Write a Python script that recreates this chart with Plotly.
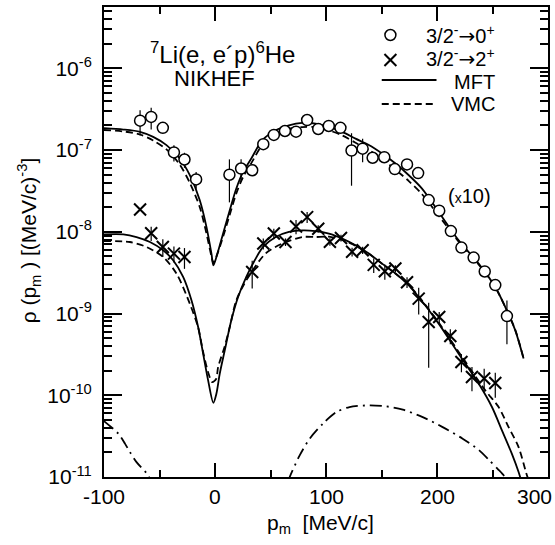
import numpy as np
import plotly.graph_objects as go

# ---------------------------------------------------------------------------
# 7Li(e,e'p)6He momentum distributions, NIKHEF data
# ---------------------------------------------------------------------------
SCALE_GS = 10  # the 3/2- -> 0+ set is drawn multiplied by 10

# 3/2- -> 0+ transition (ground state), missing momentum [MeV/c]
P_GS = [-67.5, -57.5, -47, -37, -27.5, -17, 13, 23.5, 33.5, 43.5, 53, 63, 73, 83,
        93, 102.5, 113, 123, 133, 142, 152.5, 162, 173, 183, 192.5, 202, 212.5,
        222, 233, 243, 252.5, 263]
RHO_GS = [2.29e-8, 2.54e-8, 1.87e-8, 9.35e-9, 7.66e-9, 4.37e-9, 4.99e-9, 5.94e-9,
          5.66e-9, 1.18e-8, 1.53e-8, 1.71e-8, 1.68e-8, 2.33e-8, 1.81e-8, 1.97e-8,
          1.87e-8, 9.86e-9, 1.04e-8, 8.05e-9, 8.17e-9, 5.85e-9, 6.67e-9, 5.22e-9,
          2.44e-9, 1.81e-9, 1.02e-9, 6.41e-10, 4.83e-10, 3.27e-10, 2.23e-10, 9.31e-11]
ERR_GS = [7.8e-9, 7.6e-9, 0, 2.1e-9, 1.6e-9, 1.0e-9, 2.7e-9, 1.8e-9,
          0.7e-9, 1.4e-9, 0, 0, 0, 0, 0, 0,
          1.9e-9, 6.2e-9, 3.3e-9, 0, 0, 0, 0.8e-9, 0.8e-9,
          0, 0, 0, 0, 0.5e-10, 0, 0, 5.1e-11]

# 3/2- -> 2+ transition (first excited state)
P_EX = [-67.5, -57.5, -47, -37, -27.5, 33.5, 43.5, 53, 63.5, 73, 83, 93, 103.5,
        113.5, 123.5, 133, 143, 153, 162.5, 173, 183.5, 192.5, 202, 212, 222,
        231.5, 242.5, 252.5]
RHO_EX = [1.87e-8, 9.59e-9, 6.52e-9, 5.41e-9, 4.92e-9, 3.22e-9, 7.18e-9, 9.51e-9,
          7.50e-9, 1.16e-8, 1.51e-8, 1.09e-8, 7.55e-9, 8.38e-9, 5.69e-9, 5.94e-9,
          3.94e-9, 3.29e-9, 3.55e-9, 2.41e-9, 1.52e-9, 7.87e-10, 9.06e-10,
          5.31e-10, 2.55e-10, 1.67e-10, 1.60e-10, 1.41e-10]
ERR_EX = [0, 1.9e-9, 1.6e-9, 1.2e-9, 1.4e-9, 1.2e-9, 1.1e-9, 1.4e-9,
          0.8e-9, 2.3e-9, 2.3e-9, 1.1e-9, 0.8e-9, 0.8e-9, 0.7e-9, 0.6e-9,
          0.8e-9, 0.7e-9, 0.35e-9, 0.36e-9, 5.5e-10, 5.7e-10, 1.4e-10,
          1.1e-10, 6.4e-11, 5.5e-11, 5.1e-11, 4.8e-11]

# Mean-field (MFT) calculation, ground state
P_MFT_GS = [-100, -82.6, -67.6, -55.7, -43.7, -31.7, -22.7, -13.7, -7.7, -3.2, -1.5,
            1.3, 7.3, 13.3, 19.2, 25.3, 32.7, 42.6, 54.7, 66.6, 78.6, 90.6, 102.6,
            114.6, 126.6, 138.6, 150.5, 162.6, 174.6, 186.5, 201.5, 219.5, 237.5,
            252.5, 261.5, 270.5, 278]
RHO_MFT_GS = [1.85e-8, 1.78e-8, 1.67e-8, 1.45e-8, 1.15e-8, 7.87e-9, 4.92e-9, 2.43e-9,
              1.15e-9, 5.41e-10, 3.89e-10, 4.92e-10, 9.51e-10, 1.83e-9, 3.38e-9,
              5.40e-9, 7.87e-9, 1.32e-8, 1.75e-8, 2.01e-8, 2.15e-8, 2.11e-8, 1.92e-8,
              1.67e-8, 1.38e-8, 1.15e-8, 9.06e-9, 6.84e-9, 4.92e-9, 3.38e-9, 1.75e-9,
              7.87e-10, 4.08e-10, 2.11e-10, 1.20e-10, 6.22e-11, 2.81e-11]

# Variational Monte Carlo (VMC) calculation, ground state
P_VMC_GS = P_MFT_GS
RHO_VMC_GS = [1.76e-8, 1.69e-8, 1.55e-8, 1.31e-8, 1.02e-8, 6.61e-9, 3.98e-9, 2.00e-9,
              9.55e-10, 5.01e-10, 4.17e-10, 5.01e-10, 8.71e-10, 1.62e-9, 2.95e-9,
              4.68e-9, 6.92e-9, 1.15e-8, 1.58e-8, 1.82e-8, 1.91e-8, 1.91e-8, 1.74e-8,
              1.51e-8, 1.23e-8, 1.00e-8, 7.76e-9, 5.75e-9, 4.17e-9, 2.88e-9, 1.58e-9,
              7.59e-10, 3.98e-10, 2.09e-10, 1.20e-10, 6.31e-11, 2.82e-11]

# MFT, excited state
P_MFT_EX = [-100, -82.6, -70.7, -58.6, -46.7, -37.7, -28.7, -21.2, -15.2, -10.7, -6.2,
            -1.5, 1.3, 4.3, 8.8, 14.7, 20.8, 28.2, 35.8, 43.3, 54.7, 66.6, 78.6,
            90.6, 102.6, 114.6, 126.6, 138.6, 150.5, 162.6, 174.6, 183.5, 201.5,
            219.5, 237.5, 249.5, 258.5, 267.4, 273.5, 276]
RHO_MFT_EX = [9.31e-9, 9.31e-9, 8.63e-9, 7.50e-9, 5.94e-9, 4.48e-9, 2.80e-9, 1.45e-9,
              6.84e-10, 3.23e-10, 1.52e-10, 8.1e-11, 1.05e-10, 1.84e-10, 3.55e-10,
              8.26e-10, 1.59e-9, 2.80e-9, 4.48e-9, 6.52e-9, 8.63e-9, 9.95e-9, 1.04e-8,
              1.02e-8, 9.51e-9, 8.26e-9, 6.84e-9, 5.41e-9, 4.08e-9, 3.08e-9, 2.21e-9,
              1.59e-9, 7.52e-10, 3.23e-10, 1.39e-10, 7.18e-11, 3.72e-11, 1.93e-11,
              1.15e-11, 8.9e-12]

# VMC, excited state
P_VMC_EX = [-100, -76.6, -61.7, -46.7, -34.7, -22.7, -15.2, -10.7, -6.2, -2.5, 1.0,
            2.8, 8.8, 13.3, 19.2, 28.2, 45.5, 60.5, 78.6, 90.6, 102.6, 114.6, 126.6,
            138.6, 150.5, 162.6, 174.6, 183.5, 201.5, 219.5, 243.5, 255.5, 264.5,
            273.5, 281, 283]
RHO_VMC_EX = [7.71e-9, 7.50e-9, 6.52e-9, 4.92e-9, 3.08e-9, 1.32e-9, 6.76e-10, 3.39e-10,
              1.91e-10, 1.45e-10, 1.58e-10, 2.21e-10, 3.98e-10, 6.84e-10, 1.45e-9,
              2.55e-9, 5.41e-9, 7.18e-9, 8.63e-9, 8.63e-9, 8.71e-9, 7.94e-9, 6.76e-9,
              5.37e-9, 4.07e-9, 3.09e-9, 2.24e-9, 1.62e-9, 7.76e-10, 3.39e-10,
              1.15e-10, 7.18e-11, 4.08e-11, 2.32e-11, 1.05e-11, 8.9e-12]

# Additional contribution (dash-dotted), two branches above the axis floor
P_DD = [-100, -87.1, -81.1, -76.6, -70.7, -60.2, -58, None,
        66, 67.3, 76.3, 85.3, 97.2, 109.2, 121.2, 139.2, 154.1, 169.2, 187.1,
        205.1, 223.1, 238.1, 247.1, 254.6, 260.6, 262]
RHO_DD = [4.83e-11, 3.39e-11, 2.56e-11, 2.02e-11, 1.52e-11, 1.05e-11, 8.9e-12, None,
          8.9e-12, 1.0e-11, 1.84e-11, 2.94e-11, 4.49e-11, 6.22e-11, 7.18e-11,
          7.52e-11, 7.31e-11, 6.67e-11, 5.41e-11, 4.08e-11, 2.94e-11, 2.12e-11,
          1.60e-11, 1.26e-11, 1.02e-11, 8.9e-12]

# Axis ticks
X_TICKS = [-100, 0, 100, 200, 300]
X_MINOR = [-50, 50, 150, 250]
Y_EXP = [-11, -10, -9, -8, -7, -6]
Y_RANGE = [-11, -5.25]
X_RANGE = [-100, 300]

FONT = "Liberation Sans, Arial, Helvetica, sans-serif"
ARROW = "<span style='font-family:DejaVu Sans'>\u2192</span>"
BLACK = "black"

W, H = 555, 545
ML, MR, MT, MB = 104, 5, 7, 68
PW, PH = W - ML - MR, H - MT - MB


def px(x):
    """Pixel column -> paper x."""
    return (x - ML) / PW


def py(y):
    """Pixel row -> paper y."""
    return (H - MB - y) / PH


def scaled(vals, k):
    return [None if v is None else v * k for v in vals]


fig = go.Figure()

curve_style = dict(mode="lines", line_shape="spline", hoverinfo="skip", showlegend=False)

# Theory curves
fig.add_trace(go.Scatter(x=P_MFT_GS, y=scaled(RHO_MFT_GS, SCALE_GS), name="MFT",
                         line=dict(color=BLACK, width=1.8, smoothing=0.8), **curve_style))
fig.add_trace(go.Scatter(x=P_VMC_GS, y=scaled(RHO_VMC_GS, SCALE_GS), name="VMC",
                         line=dict(color=BLACK, width=1.8, dash="7px,4px", smoothing=0.8),
                         **curve_style))
fig.add_trace(go.Scatter(x=P_MFT_EX, y=RHO_MFT_EX, name="MFT",
                         line=dict(color=BLACK, width=1.8, smoothing=0.8), **curve_style))
fig.add_trace(go.Scatter(x=P_VMC_EX, y=RHO_VMC_EX, name="VMC",
                         line=dict(color=BLACK, width=1.8, dash="7px,4px", smoothing=0.8),
                         **curve_style))
fig.add_trace(go.Scatter(x=P_DD, y=RHO_DD, connectgaps=False,
                         line=dict(color=BLACK, width=1.8, dash="12px,5px,2px,5px",
                                   smoothing=0.8),
                         **curve_style))

# Data points
fig.add_trace(go.Scatter(
    x=P_GS, y=scaled(RHO_GS, SCALE_GS), mode="markers", showlegend=False,
    marker=dict(symbol="circle", size=11, color="white",
                line=dict(color=BLACK, width=1.5)),
    error_y=dict(type="data", array=scaled(ERR_GS, SCALE_GS), visible=True,
                 width=0, thickness=1.2, color=BLACK),
))
fig.add_trace(go.Scatter(
    x=P_EX, y=RHO_EX, mode="markers", showlegend=False,
    marker=dict(symbol="x-thin", size=12, color=BLACK,
                line=dict(color=BLACK, width=2)),
    error_y=dict(type="data", array=ERR_EX, visible=True,
                 width=0, thickness=1.2, color=BLACK),
))

# Empty trace that carries the top/right tick axes
fig.add_trace(go.Scatter(x=[None], y=[None], xaxis="x2", yaxis="y2", mode="markers",
                         hoverinfo="skip", showlegend=False))

# Log-scale minor ticks (2..9 in each decade)
y_minor = [m * 10.0 ** e for e in range(-11, -5) for m in range(2, 10)]
y_minor = [v for v in y_minor if np.log10(v) <= Y_RANGE[1]]

x_ticks = dict(
    range=X_RANGE, showgrid=False, zeroline=False,
    ticks="inside", tickvals=X_TICKS, ticklen=14, tickwidth=1.8, tickcolor=BLACK,
    showticklabels=False,
    minor=dict(ticks="inside", tickvals=X_MINOR, ticklen=7, tickwidth=1.8,
               tickcolor=BLACK, showgrid=False),
)
y_ticks = dict(
    type="log", range=Y_RANGE, showgrid=False, zeroline=False,
    ticks="inside", tickvals=[10.0 ** e for e in Y_EXP],
    ticklen=18, tickwidth=1.8, tickcolor=BLACK,
    minor=dict(ticks="inside", tickvals=y_minor, ticklen=8, tickwidth=1.5,
               tickcolor=BLACK, showgrid=False),
)

fig.update_layout(
    xaxis=dict(**x_ticks, showline=True, linecolor=BLACK, linewidth=2, mirror=True),
    yaxis=dict(**y_ticks, showline=True, linecolor=BLACK, linewidth=2, mirror=True,
               ticktext=[f"10<sup>{e}</sup>" for e in Y_EXP],
               ticklabelstandoff=6,
               tickfont=dict(family=FONT, size=21, color=BLACK)),
    xaxis2=dict(**x_ticks, overlaying="x", side="top", anchor="y2", showline=False),
    yaxis2=dict(**y_ticks, overlaying="y", side="right",
                anchor="x2", showline=False, showticklabels=False),
)

annotations = []

# x tick labels (the last one is pulled inside the page edge)
for v in X_TICKS:
    annotations.append(dict(
        x=v, y=0, xref="x", yref="paper", text=str(v), showarrow=False,
        xanchor="center", yanchor="top", yshift=-6,
        xshift=-14 if v == X_RANGE[1] else 0,
        font=dict(family=FONT, size=21, color=BLACK)))

# Axis titles
annotations.append(dict(
    x=px(321), y=py(524), xref="paper", yref="paper",
    text="p<sub>m</sub>  [MeV/c]", showarrow=False,
    xanchor="center", yanchor="middle",
    font=dict(family=FONT, size=21, color=BLACK)))
annotations.append(dict(
    x=px(28), y=py(240), xref="paper", yref="paper", textangle=-90,
    text="\u03c1 (p<sub>m</sub> ) [(MeV/c)<sup>-3</sup>]", showarrow=False,
    xanchor="center", yanchor="middle",
    font=dict(family=FONT, size=21, color=BLACK)))

# Reaction label
annotations.append(dict(
    x=px(223), y=py(53), xref="paper", yref="paper",
    text="<sup>7</sup>Li(e, e\u00b4p)<sup>6</sup>He", showarrow=False,
    xanchor="center", yanchor="middle",
    font=dict(family=FONT, size=24, color=BLACK)))
annotations.append(dict(
    x=px(214.5), y=py(78.5), xref="paper", yref="paper",
    text="NIKHEF", showarrow=False, xanchor="center", yanchor="middle",
    font=dict(family=FONT, size=22, color=BLACK)))

# Scale note for the upper set
annotations.append(dict(
    x=px(471.5), y=py(196), xref="paper", yref="paper",
    text="(<span style='font-size:14px'>x</span>10)", showarrow=False,
    xanchor="center", yanchor="middle",
    font=dict(family=FONT, size=20, color=BLACK)))

# Legend (drawn by hand: symbols/lines left, labels right-aligned)
legend_rows = [
    (f"3/2<sup>-</sup>{ARROW}0<sup>+</sup>", 35),
    (f"3/2<sup>-</sup>{ARROW}2<sup>+</sup>", 58),
    ("MFT", 82),
    ("VMC", 104),
]
for text, row in legend_rows:
    annotations.append(dict(
        x=px(499), y=py(row), xref="paper", yref="paper", text=text,
        showarrow=False, xanchor="right", yanchor="middle",
        font=dict(family=FONT, size=20, color=BLACK)))

shapes = []
cx = 391.7
r = 5.5
shapes.append(dict(type="circle", xref="paper", yref="paper",
                   x0=px(cx - r), x1=px(cx + r), y0=py(35 + r), y1=py(35 - r),
                   line=dict(color=BLACK, width=1.5)))
for dy in (-1, 1):
    shapes.append(dict(type="line", xref="paper", yref="paper",
                       x0=px(cx - 6), x1=px(cx + 6),
                       y0=py(60 - 6 * dy), y1=py(60 + 6 * dy),
                       line=dict(color=BLACK, width=2)))
shapes.append(dict(type="line", xref="paper", yref="paper",
                   x0=px(383), x1=px(438), y0=py(80), y1=py(80),
                   line=dict(color=BLACK, width=1.8)))
shapes.append(dict(type="line", xref="paper", yref="paper",
                   x0=px(383), x1=px(438), y0=py(104), y1=py(104),
                   line=dict(color=BLACK, width=1.8, dash="7px,4px")))

fig.update_layout(
    width=W, height=H,
    margin=dict(l=ML, r=MR, t=MT, b=MB),
    paper_bgcolor="white", plot_bgcolor="white",
    showlegend=False,
    annotations=annotations,
    shapes=shapes,
    font=dict(family=FONT, color=BLACK),
)

fig.write_html("out.html")
